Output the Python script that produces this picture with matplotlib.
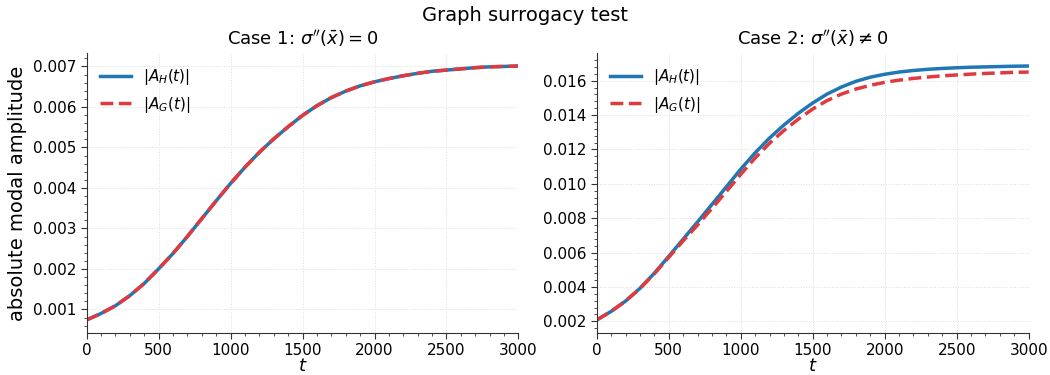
import numpy as np
import matplotlib
matplotlib.use("Agg")
import matplotlib.pyplot as plt
from matplotlib.ticker import MultipleLocator

# time samples (every 100 units)
t = list(range(0, 3001, 100))

# case 1: both curves coincide
case1_H = [0.00074, 0.00090, 0.00109, 0.00134, 0.00164, 0.00200, 0.00238, 0.00280,
           0.00324, 0.00368, 0.00411, 0.00451, 0.00488, 0.00521, 0.00551, 0.00579,
           0.00603, 0.00623, 0.00639, 0.00652, 0.00662, 0.00670, 0.00677, 0.00683,
           0.00688, 0.00691, 0.00694, 0.00697, 0.00699, 0.00700, 0.00701]
case1_G = list(case1_H)

# case 2: G drifts below H
case2_H = [0.00208, 0.00258, 0.00318, 0.00392, 0.00480, 0.00578, 0.00678, 0.00778,
           0.00880, 0.00982, 0.01085, 0.01180, 0.01266, 0.01342, 0.01410, 0.01470,
           0.01522, 0.01563, 0.01596, 0.01620, 0.01637, 0.01650, 0.01659, 0.01666,
           0.01671, 0.01675, 0.01678, 0.01680, 0.01682, 0.01684, 0.01685]
case2_G = [0.00208, 0.00258, 0.00318, 0.00391, 0.00477, 0.00572, 0.00668, 0.00760,
           0.00857, 0.00955, 0.01055, 0.01150, 0.01236, 0.01310, 0.01376, 0.01435,
           0.01484, 0.01522, 0.01551, 0.01573, 0.01590, 0.01603, 0.01613, 0.01621,
           0.01628, 0.01633, 0.01638, 0.01642, 0.01645, 0.01648, 0.01650]

titles = [r"Case 1: $\sigma''(\bar{x}) = 0$", r"Case 2: $\sigma''(\bar{x}) \neq 0$"]

fig = plt.figure(figsize=(10.5, 3.75), dpi=100)
ax1 = fig.add_axes([0.0824, 0.1128, 0.4114, 0.745])
ax2 = fig.add_axes([0.5683, 0.1128, 0.4114, 0.745])

for ax, H, G, title, ystep in [(ax1, case1_H, case1_G, titles[0], 0.001),
                               (ax2, case2_H, case2_G, titles[1], 0.002)]:
    ax.plot(t, H, color="#1f77b4", lw=2.5, label=r"$|A_H(t)|$")
    ax.plot(t, G, color="#e03a3e", lw=2.5, ls="--", label=r"$|A_G(t)|$")
    ax.set_xlim(0, 3000)
    ax.set_title(title, fontsize=13)
    ax.set_xlabel(r"$t$", fontsize=13, labelpad=-1)
    ax.yaxis.set_major_locator(MultipleLocator(ystep))
    ax.yaxis.set_minor_locator(MultipleLocator(ystep / 5))
    ax.xaxis.set_major_locator(MultipleLocator(500))
    ax.xaxis.set_minor_locator(MultipleLocator(100))
    ax.tick_params(which="major", labelsize=11, length=4, color="#333333")
    ax.tick_params(which="minor", length=2, color="#333333")
    ax.grid(True, which="major", ls=":", lw=0.7, color="#dddddd")
    for s in ["top", "right"]:
        ax.spines[s].set_visible(False)
    for s in ["left", "bottom"]:
        ax.spines[s].set_color("#333333")
    ax.legend(loc="upper left", frameon=False, fontsize=11)

ax1.set_ylabel("absolute modal amplitude", fontsize=14)
fig.suptitle("Graph surrogacy test", fontsize=14, y=0.985)

fig.savefig("out.png", dpi=100)
